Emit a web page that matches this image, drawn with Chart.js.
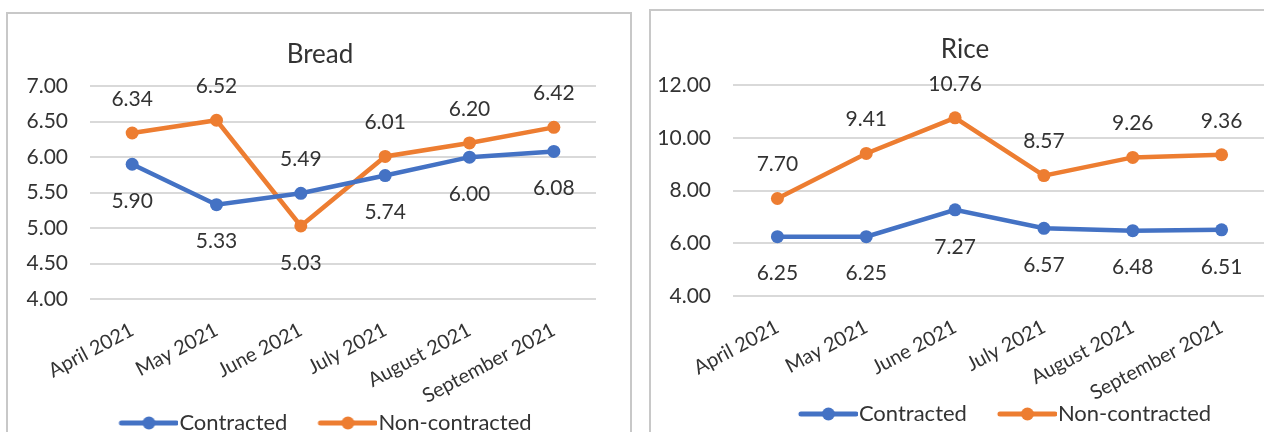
<!DOCTYPE html>
<html>
<head>
<meta charset="utf-8">
<script src="https://cdn.jsdelivr.net/npm/chart.js@4/dist/chart.umd.min.js"></script>
<style>
  html, body { margin: 0; padding: 0; background: #fff; overflow: hidden; width: 1264px; height: 432px; }
  .panel { position: absolute; border: 2px solid #C8C8C8; background: #fff; }
  #p1 { left: 6px; top: 12px; width: 622px; height: 446px; }
  #p2 { left: 649px; top: 9px; width: 628px; height: 446px; }
  canvas { display: block; }
</style>
</head>
<body>
<div class="panel" id="p1"><canvas id="c1" width="622" height="446"></canvas></div>
<div class="panel" id="p2"><canvas id="c2" width="628" height="446"></canvas></div>
<script>
// ---- data ----
const months = ['April 2021', 'May 2021', 'June 2021', 'July 2021', 'August 2021', 'September 2021'];
const seriesNames = ['Contracted', 'Non-contracted'];
const breadContracted = [5.90, 5.33, 5.49, 5.74, 6.00, 6.08];
const breadNonContracted = [6.34, 6.52, 5.03, 6.01, 6.20, 6.42];
const riceContracted = [6.25, 6.25, 7.27, 6.57, 6.48, 6.51];
const riceNonContracted = [7.70, 9.41, 10.76, 8.57, 9.26, 9.36];
const breadTicks = { min: 4, max: 7, step: 0.5 };
const riceTicks = { min: 4, max: 12, step: 2 };

// ---- style ----
const BLUE = '#4472C4';
const ORANGE = '#ED7D31';
const TEXT = '#333333';
const GRID = '#D9D9D9';
const FONT = 'Lato';

Chart.defaults.font.family = FONT;
Chart.defaults.color = TEXT;

function legendIcon(color) {
  const c = document.createElement('canvas');
  c.width = 80; c.height = 16;
  const g = c.getContext('2d');
  g.strokeStyle = color; g.lineWidth = 5; g.lineCap = 'round';
  g.beginPath(); g.moveTo(23, 8); g.lineTo(78, 8); g.stroke();
  g.fillStyle = color;
  g.beginPath(); g.arc(50.5, 8, 6.5, 0, Math.PI * 2); g.fill();
  return c;
}
const icons = [legendIcon(BLUE), legendIcon(ORANGE)];

const pointLabels = {
  id: 'pointLabels',
  afterDatasetsDraw(chart, args, opts) {
    const ctx = chart.ctx;
    ctx.save();
    ctx.font = `${opts.size}px ${FONT}`;
    ctx.fillStyle = TEXT;
    ctx.textAlign = 'center';
    ctx.textBaseline = 'middle';
    chart.data.datasets.forEach((ds, di) => {
      const meta = chart.getDatasetMeta(di);
      meta.data.forEach((pt, i) => {
        const v = ds.data[i];
        const others = chart.data.datasets.filter((d, j) => j !== di).map(d => d.data[i]);
        const above = others.every(o => v >= o);
        ctx.fillText(v.toFixed(2), pt.x, pt.y + (above ? -opts.above : opts.below));
      });
    });
    ctx.restore();
  }
};

function makeChart(id, title, contracted, nonContracted, tk, lay) {
  const mkDs = (label, data, color) => ({
    label, data,
    borderColor: color, backgroundColor: color,
    borderWidth: 4.5,
    pointRadius: 6.5, pointHoverRadius: 6.5,
    pointBackgroundColor: color, pointBorderColor: color, pointBorderWidth: 0,
    tension: 0
  });
  const noClip = s => { s._computeLabelArea = () => null; };
  return new Chart(document.getElementById(id), {
    type: 'line',
    data: {
      labels: months,
      datasets: [
        mkDs(seriesNames[0], contracted, BLUE),
        mkDs(seriesNames[1], nonContracted, ORANGE)
      ]
    },
    plugins: [pointLabels],
    options: {
      responsive: false,
      animation: false,
      devicePixelRatio: 1,
      layout: { padding: { left: lay.pl, right: lay.pr, top: 0, bottom: lay.pb } },
      plugins: {
        tooltip: { enabled: false },
        pointLabels: { size: 21, above: 34, below: 37 },
        title: {
          display: true, text: title,
          font: { size: 26, weight: 'normal' }, color: TEXT,
          padding: { top: lay.tt, bottom: lay.tb }
        },
        legend: {
          position: 'bottom',
          fullSize: lay.legendFull,
          labels: {
            usePointStyle: true,
            pointStyleWidth: 60,
            padding: 20,
            color: TEXT,
            font: { size: 22 },
            generateLabels(chart) {
              const items = Chart.defaults.plugins.legend.labels.generateLabels(chart);
              items.forEach((it, i) => { it.pointStyle = icons[i]; });
              return items;
            }
          }
        }
      },
      scales: {
        x: {
          offset: true,
          grid: { display: false, drawTicks: false },
          border: { display: false },
          ticks: {
            autoSkip: false, minRotation: 28, maxRotation: 28,
            padding: 19, color: TEXT, font: { size: 20 }
          },
          afterFit(s) { s.height = lay.xh; noClip(s); }
        },
        y: {
          min: tk.min, max: tk.max,
          grid: { color: GRID, lineWidth: 2, drawTicks: false },
          border: { display: false },
          ticks: {
            stepSize: tk.step, padding: 22, color: TEXT, font: { size: 21 },
            callback: v => Number(v).toFixed(2)
          },
          afterFit(s) { s.width = lay.yw; noClip(s); }
        }
      }
    }
  });
}

makeChart('c1', 'Bread', breadContracted, breadNonContracted, breadTicks,
  { pl: 36, pr: 34, pb: 16, tt: 25, tb: 16, xh: 93, yw: 46, legendFull: true });
makeChart('c2', 'Rice', riceContracted, riceNonContracted, riceTicks,
  { pl: 13, pr: 13, pb: 22, tt: 23, tb: 20, xh: 87, yw: 69, legendFull: false });
</script>
</body>
</html>
